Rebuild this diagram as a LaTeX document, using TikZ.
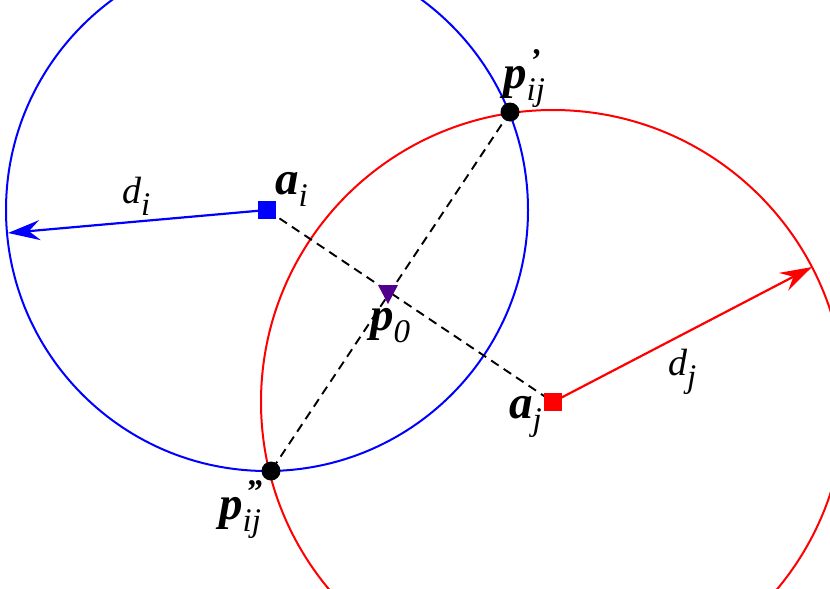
\documentclass[tikz,border=0pt]{standalone}
\usepackage{fontspec}
\setmainfont{Liberation Serif}
\usetikzlibrary{arrows.meta}
\definecolor{tri}{RGB}{80,0,140}
\newcommand\bsym[3]{{\fontsize{47}{47}\selectfont\bfseries\itshape #1}{\fontsize{33}{33}\selectfont\itshape\rlap{\kern3pt\raisebox{17pt}{\bfseries #2}}\raisebox{-12pt}{#3}}}
\newcommand\dsym[2]{{\fontsize{38}{38}\selectfont\itshape #1}{\fontsize{33}{33}\selectfont\itshape\raisebox{-12pt}{#2}}}
\begin{document}
\begin{tikzpicture}[x=1pt,y=-1pt,
  circ/.style={line width=2pt},
  dash line/.style={line width=1.9pt,dash pattern=on 9pt off 6pt},
  arr/.style={line width=2.2pt,-{Stealth[length=32pt,width=20pt,inset=11pt]}},
  sq/.style={rectangle,minimum size=18pt,inner sep=0pt},
  dot/.style={circle,fill=black,minimum size=19pt,inner sep=0pt},
  lbl/.style={inner sep=0pt,anchor=base west}]
\useasboundingbox (0,0) rectangle (830,589);
\clip (0,0) rectangle (830,589);
\coordinate (ai) at (267,210);
\coordinate (aj) at (553,402);
\coordinate (p1) at (510,112);
\coordinate (p2) at (271,471);
\coordinate (p0) at (388,292);
\coordinate (ei) at (8,233);
\coordinate (ej) at (812,267);
\draw[circ,blue] (ai) circle[radius=261pt];
\draw[circ,red] (aj) circle[radius=292pt];
\draw[dash line] (ai) -- (aj);
\draw[dash line] (p1) -- (p2);
\draw[arr,blue] (ai) -- (ei);
\draw[arr,red] (aj) -- (ej);
\node[sq,fill=blue] (nai) at (ai) {};
\node[sq,fill=red] (naj) at (aj) {};
\node[dot] (np1) at (p1) {};
\node[dot] (np2) at (p2) {};
\fill[tri] (378,285) -- (398,285) -- (388,304) -- cycle;
\node[lbl] (l1) at (503,88) {\bsym{p}{’}{ij}};
\node[lbl] (l2) at (275,194) {\bsym{a}{}{i}};
\node[lbl] (l3) at (370,330) {\bsym{p}{}{0}};
\node[lbl] (l4) at (509,418) {\bsym{a}{}{j}};
\node[lbl] (l5) at (219,519) {\bsym{p}{”}{ij}};
\node[lbl] (l6) at (122,203) {\dsym{d}{i}};
\node[lbl] (l7) at (668,375) {\dsym{d}{j}};
\end{tikzpicture}
\end{document}
